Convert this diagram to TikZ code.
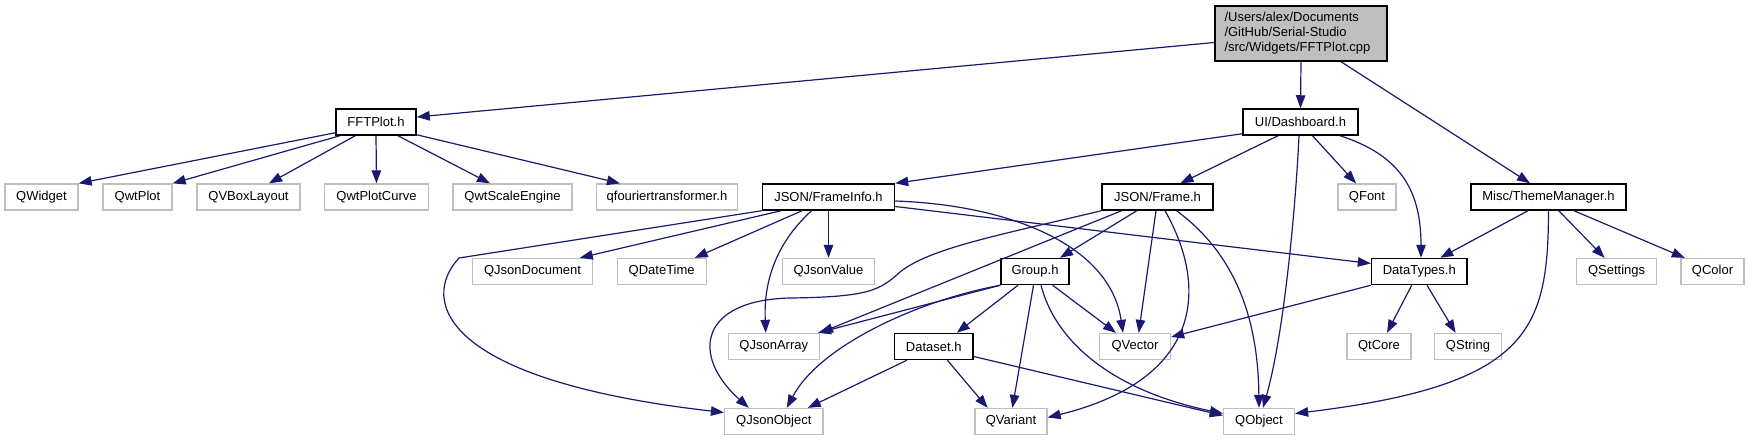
\documentclass[tikz,border=0pt]{standalone}
\usepackage{fontspec}
\setmainfont{Liberation Sans}
\usetikzlibrary{arrows.meta}
\definecolor{edgec}{HTML}{191970}
\definecolor{grayb}{HTML}{BFBFBF}
\definecolor{topfill}{HTML}{BFBFBF}
\begin{document}
\begin{tikzpicture}[x=1pt,y=-1pt,
  every node/.style={font=\fontsize{13}{15}\selectfont, inner sep=0pt, minimum height=26pt},
  hbox/.style={draw=black, line width=1.5pt, fill=white},
  gbox/.style={draw=grayb, line width=1.3pt, fill=white},
  dep/.style={draw=edgec, line width=1.2pt, -{Triangle[length=13pt,width=9.5pt]}}]
\useasboundingbox (0,0) rectangle (1749,440);
% row 0
\node[hbox, fill=topfill, minimum width=172pt, minimum height=55pt, text width=153pt, inner xsep=9.5pt, align=left] (top) at (1301,33.5) {/Users/alex/Documents\\/GitHub/Serial-Studio\\/src/Widgets/FFTPlot.cpp};
% row 1
\node[hbox, minimum width=80pt] (fft) at (376,122) {FFTPlot.h};
\node[hbox, minimum width=115pt] (dash) at (1300.5,122) {UI/Dashboard.h};
% row 2
\node[gbox, minimum width=73pt] (qwidget) at (41.5,197) {QWidget};
\node[gbox, minimum width=69pt] (qwtplot) at (137.5,197) {QwtPlot};
\node[gbox, minimum width=103pt] (qvbox) at (248.5,197) {QVBoxLayout};
\node[gbox, minimum width=104pt] (qwtcurve) at (376.5,197) {QwtPlotCurve};
\node[gbox, minimum width=119pt] (qse) at (512.5,197) {QwtScaleEngine};
\node[gbox, minimum width=141.5pt] (qfourier) at (667,197) {qfouriertransformer.h};
\node[hbox, minimum width=132pt] (fi) at (828.5,197) {JSON/FrameInfo.h};
\node[hbox, minimum width=111pt] (frame) at (1157.5,197) {JSON/Frame.h};
\node[gbox, minimum width=58pt] (qfont) at (1367,197) {QFont};
\node[hbox, minimum width=155pt] (theme) at (1548.5,197) {Misc/ThemeManager.h};
% row 3
\node[gbox, minimum width=120pt] (qjd) at (532.5,271.5) {QJsonDocument};
\node[gbox, minimum width=89pt] (qdt) at (661.7,271.5) {QDateTime};
\node[gbox, minimum width=92pt] (qjv) at (828.5,271.5) {QJsonValue};
\node[hbox, minimum width=68pt] (group) at (1035,271.5) {Group.h};
\node[hbox, minimum width=95.5pt] (dt) at (1419.3,271.5) {DataTypes.h};
\node[gbox, minimum width=80pt] (qsettings) at (1616.6,271.5) {QSettings};
\node[gbox, minimum width=63pt] (qcolor) at (1712.5,271.5) {QColor};
% row 4
\node[gbox, minimum width=91pt] (qja) at (773.8,346.5) {QJsonArray};
\node[hbox, minimum width=78.4pt] (dataset) at (933.8,346.5) {Dataset.h};
\node[gbox, minimum width=71pt] (qvec) at (1135,346.5) {QVector};
\node[gbox, minimum width=64pt] (qtcore) at (1379,346.5) {QtCore};
\node[gbox, minimum width=66.5pt] (qstring) at (1468,346.5) {QString};
% row 5
\node[gbox, minimum width=98.4pt] (qjo) at (773.8,421.5) {QJsonObject};
\node[gbox, minimum width=72pt] (qvar) at (1011,421.5) {QVariant};
\node[gbox, minimum width=71pt] (qobject) at (1259,421.5) {QObject};
% top
\draw[dep] ([yshift=-9pt]top.west) -- ([yshift=5pt]fft.east);
\draw[dep] (top.south) -- (dash.north);
\draw[dep] ([xshift=40pt]top.south) -- ([xshift=-18.5pt]theme.north);
% FFTPlot.h
\draw[dep] ([yshift=3pt]fft.south west) -- (qwidget.north east);
\draw[dep] ([xshift=4.6pt]fft.south west) -- (qwtplot.north east);
\draw[dep] ([xshift=20pt]fft.south west) -- ([xshift=20.5pt]qvbox.north);
\draw[dep] (fft.south) -- (qwtcurve.north);
\draw[dep] ([xshift=22pt]fft.south) -- ([xshift=-22.5pt]qse.north);
\draw[dep] ([yshift=1pt]fft.south east) -- ([xshift=-47pt]qfourier.north);
% Dashboard
\draw[dep] ([yshift=2pt]dash.south west) -- (fi.north east);
\draw[dep] ([xshift=-22.5pt]dash.south) -- ([xshift=23pt]frame.north);
\draw[dep] ([xshift=-1.5pt]dash.south) .. controls (1296,200) and (1285,330) .. ([xshift=4pt]qobject.north);
\draw[dep] ([xshift=12pt]dash.south) -- ([xshift=-11pt]qfont.north);
\draw[dep] ([xshift=39.5pt]dash.south) .. controls (1400,155) and (1421,190) .. ([xshift=1.7pt]dt.north);
% FrameInfo
\draw[dep] (fi.south west) -- (459,258) .. controls (420,300) and (440,380) .. ([yshift=9pt]qjo.west);
\draw[dep] ([xshift=-47.5pt]fi.south) -- ([xshift=47.3pt]qjd.north);
\draw[dep] ([xshift=-26.5pt]fi.south) -- ([xshift=33pt]qdt.north);
\draw[dep] ([xshift=-17pt]fi.south) .. controls (785,235) and (763,270) .. ([xshift=-8pt]qja.north);
\draw[dep] (fi.south) -- (qjv.north);
\draw[dep] ([yshift=-4pt]fi.east) .. controls (1010,205) and (1110,245) .. ([xshift=-12pt]qvec.north);
\draw[dep] ([yshift=-9.5pt]fi.east) -- ([yshift=8pt]dt.west);
% Frame
\draw[dep] ([xshift=-20.7pt]frame.south) -- ([xshift=25pt]group.north);
\draw[dep] (frame.south west) .. controls (1000,235) and (930,248) .. (900,272) .. controls (880,290) and (870,297) .. (790,298) .. controls (700,300) and (690,355) .. ([xshift=-25pt]qjo.north);
\draw[dep] ([xshift=-36pt]frame.south) -- (qja.north east);
\draw[dep] ([xshift=-1.5pt]frame.south) -- ([xshift=3.7pt]qvec.north);
\draw[dep] ([xshift=7.5pt]frame.south) .. controls (1210,290) and (1200,380) .. ([yshift=4pt]qvar.east);
\draw[dep] ([xshift=19pt]frame.south) .. controls (1230,250) and (1258,310) .. (qobject.north);
% Group
\draw[dep] (group.south west) -- ([xshift=-2pt]qja.north east);
\draw[dep] (group.south west) .. controls (920,300) and (820,345) .. ([xshift=13pt]qjo.north);
\draw[dep] ([xshift=-17pt]group.south) -- ([xshift=23pt]dataset.north);
\draw[dep] ([xshift=-1.5pt]group.south) -- ([xshift=1.4pt]qvar.north);
\draw[dep] ([xshift=17.6pt]group.south) -- ([xshift=-19pt]qvec.north);
\draw[dep] ([xshift=6pt]group.south) .. controls (1055,340) and (1110,390) .. ([yshift=8pt]qobject.west);
% Dataset
\draw[dep] ([xshift=-27pt]dataset.south) -- ([xshift=34pt]qjo.north);
\draw[dep] ([xshift=13.6pt]dataset.south) -- ([xshift=-23.4pt]qvar.north);
\draw[dep] ([yshift=-10pt]dataset.east) -- ([yshift=6pt]qobject.west);
% DataTypes
\draw[dep] (dt.south west) -- ([yshift=9.5pt]qvec.east);
\draw[dep] ([xshift=-7.6pt]dt.south) -- ([xshift=8pt]qtcore.north);
\draw[dep] ([xshift=7.7pt]dt.south) -- ([xshift=-12.4pt]qstring.north);
% ThemeManager
\draw[dep] ([xshift=-20.5pt]theme.south) -- ([xshift=21pt]dt.north);
\draw[dep] ([xshift=10.3pt]theme.south) -- ([xshift=-12pt]qsettings.north);
\draw[dep] ([xshift=25.5pt]theme.south) -- ([xshift=-27.7pt]qcolor.north);
\draw[dep] (theme.south) .. controls (1548,330) and (1530,385) .. ([yshift=8pt]qobject.east);
\end{tikzpicture}
\end{document}
